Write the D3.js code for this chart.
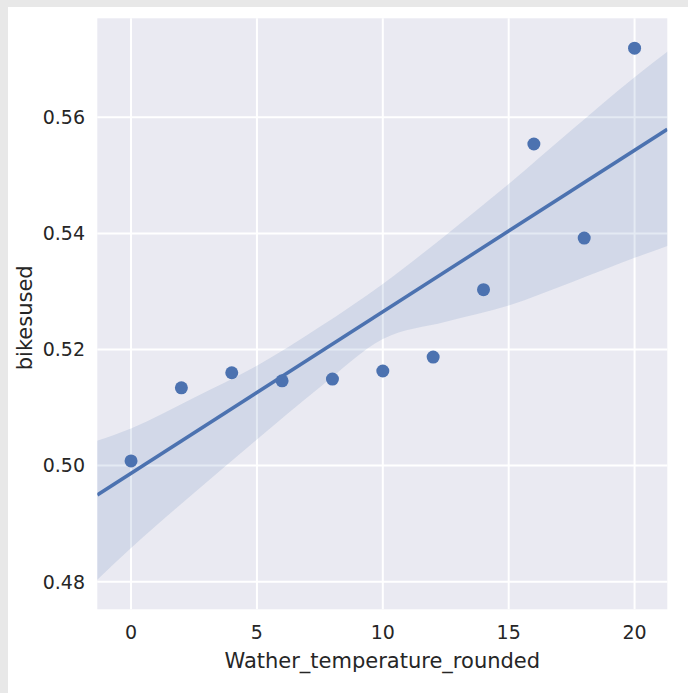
<!DOCTYPE html>
<html>
<head>
<meta charset="utf-8">
<script src="https://cdn.jsdelivr.net/npm/d3@7/dist/d3.min.js"></script>
<style>
  html, body { margin: 0; padding: 0; background: #e8e8e8; }
  svg { display: block; }
  text { font-family: "DejaVu Sans", sans-serif; fill: #262626; }
</style>
</head>
<body>
<svg id="chart" width="688" height="693"></svg>
<script>
// Temperature (rounded) vs share of bikes used
const temps = [0, 2, 4, 6, 8, 10, 12, 14, 16, 18, 20];
const bikesUsed = [0.5008, 0.5134, 0.5160, 0.5146, 0.5149, 0.5163, 0.5187, 0.5303, 0.5554, 0.5392, 0.5719];

// 95% confidence band around the fit (bootstrapped)
const bandX = [-1.4, 0, 2.5, 5, 7.5, 10, 12.5, 15, 17.5, 20, 21.4];
const bandLow = [0.4801, 0.4858, 0.4953, 0.5045, 0.5135, 0.5218, 0.5248, 0.5276, 0.5316, 0.5358, 0.5380];
const bandHigh = [0.5042, 0.5064, 0.5117, 0.5172, 0.5239, 0.5313, 0.5397, 0.5485, 0.5578, 0.5669, 0.5716];

const xTicks = [0, 5, 10, 15, 20];
const yTicks = [0.48, 0.50, 0.52, 0.54, 0.56];
const xDomain = [-1.34, 21.3];
const yDomain = [0.47525, 0.57705];

const svg = d3.select("#chart");
// white figure panel inside the grey frame
svg.append("rect").attr("x", 8).attr("y", 7).attr("width", 680).attr("height", 686).attr("fill", "#ffffff");

const plot = { left: 97.3, top: 18.3, right: 667.3, bottom: 609.3 };
const x = d3.scaleLinear().domain(xDomain).range([plot.left, plot.right]);
const y = d3.scaleLinear().domain(yDomain).range([plot.bottom, plot.top]);

svg.append("defs").append("clipPath").attr("id", "plotClip")
  .append("rect").attr("x", plot.left).attr("y", plot.top)
  .attr("width", plot.right - plot.left).attr("height", plot.bottom - plot.top);

svg.append("rect")
  .attr("x", plot.left).attr("y", plot.top)
  .attr("width", plot.right - plot.left).attr("height", plot.bottom - plot.top)
  .attr("fill", "#eaeaf2");

// grid
const grid = svg.append("g");
grid.selectAll("line.gx").data(xTicks).join("line")
  .attr("x1", d => x(d)).attr("x2", d => x(d))
  .attr("y1", plot.top).attr("y2", plot.bottom)
  .attr("stroke", "#ffffff").attr("stroke-width", 2);
grid.selectAll("line.gy").data(yTicks).join("line")
  .attr("y1", d => y(d)).attr("y2", d => y(d))
  .attr("x1", plot.left).attr("x2", plot.right)
  .attr("stroke", "#ffffff").attr("stroke-width", 2);

const body = svg.append("g").attr("clip-path", "url(#plotClip)");

// confidence band
const band = bandX.map((v, i) => ({ x: v, lo: bandLow[i], hi: bandHigh[i] }));
body.append("path")
  .datum(band)
  .attr("fill", "#4c72b0").attr("fill-opacity", 0.15)
  .attr("d", d3.area().curve(d3.curveMonotoneX)
    .x(d => x(d.x)).y0(d => y(d.lo)).y1(d => y(d.hi)));

// points
body.selectAll("circle").data(temps).join("circle")
  .attr("cx", d => x(d))
  .attr("cy", (d, i) => y(bikesUsed[i]))
  .attr("r", 6.5)
  .attr("fill", "#4c72b0");

// least-squares fit
const mx = d3.mean(temps), my = d3.mean(bikesUsed);
let sxy = 0, sxx = 0;
temps.forEach((t, i) => { sxy += (t - mx) * (bikesUsed[i] - my); sxx += (t - mx) ** 2; });
const slope = sxy / sxx, intercept = my - slope * mx;
body.append("line")
  .attr("x1", x(xDomain[0])).attr("y1", y(intercept + slope * xDomain[0]))
  .attr("x2", x(xDomain[1])).attr("y2", y(intercept + slope * xDomain[1]))
  .attr("stroke", "#4c72b0").attr("stroke-width", 3.5).attr("stroke-linecap", "butt");

// tick labels
svg.append("g").selectAll("text").data(xTicks).join("text")
  .attr("x", d => x(d)).attr("y", 639)
  .attr("text-anchor", "middle").attr("font-size", 19)
  .text(d => d);
svg.append("g").selectAll("text").data(yTicks).join("text")
  .attr("x", 85).attr("y", d => y(d)).attr("dy", "0.36em")
  .attr("text-anchor", "end").attr("font-size", 19)
  .text(d => d3.format(".2f")(d));

// axis titles
svg.append("text")
  .attr("x", (plot.left + plot.right) / 2).attr("y", 668)
  .attr("text-anchor", "middle").attr("font-size", 21)
  .text("Wather_temperature_rounded");
svg.append("text")
  .attr("transform", `translate(32, ${(plot.top + plot.bottom) / 2 + 4}) rotate(-90)`)
  .attr("text-anchor", "middle").attr("font-size", 21)
  .text("bikesused");
</script>
</body>
</html>
